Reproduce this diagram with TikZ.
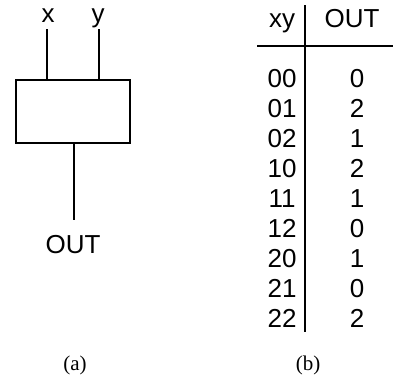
\documentclass[tikz,border=0pt]{standalone}
\usepackage{fontspec}
\setmainfont{Liberation Sans}
\newfontfamily\capfont{Liberation Serif}
\begin{document}
\begin{tikzpicture}[x=1pt,y=-1pt,
  wire/.style={line width=2pt},
  lbl/.style={font=\fontsize{26}{26}\selectfont, inner sep=0pt, anchor=base},
  captxt/.style={font=\capfont\fontsize{21}{21}\selectfont, inner sep=0pt, anchor=base}]
\useasboundingbox (0,0) rectangle (393,381);
% (a) block
\node[draw, line width=2pt, minimum width=114pt, minimum height=63pt, inner sep=0pt] (box) at (72.5,111.5) {};
\node[lbl] (xl) at (48,22) {x};
\node[lbl] (yl) at (98,22) {y};
\coordinate (xt) at (47,29);
\coordinate (yt) at (99,29);
\coordinate (ob) at (74,220);
\draw[wire] (xt) -- (xt |- box.north);
\draw[wire] (yt) -- (yt |- box.north);
\draw[wire] (ob |- box.south) -- (ob);
\node[lbl] (outl) at (73,253) {OUT};
\node[captxt] (ca) at (75,370) {(a)};
% (b) table
\node[lbl] (hxy) at (282,27) {xy};
\node[lbl] (hout) at (352,27) {OUT};
\coordinate (vt) at (305,5);
\coordinate (vb) at (305,332);
\coordinate (hl) at (257,46);
\coordinate (hr) at (393,46);
\draw[wire] (vt) -- (vb);
\draw[wire] (hl) -- (hr);
\foreach \a/\b [count=\i from 0] in {00/0,01/2,02/1,10/2,11/1,12/0,20/1,21/0,22/2}{
  \node[lbl] (l\i) at (282,87+30*\i) {\a};
  \node[lbl] (r\i) at (357,87+30*\i) {\b};
}
\node[captxt] (cb) at (308,370) {(b)};
\end{tikzpicture}
\end{document}
